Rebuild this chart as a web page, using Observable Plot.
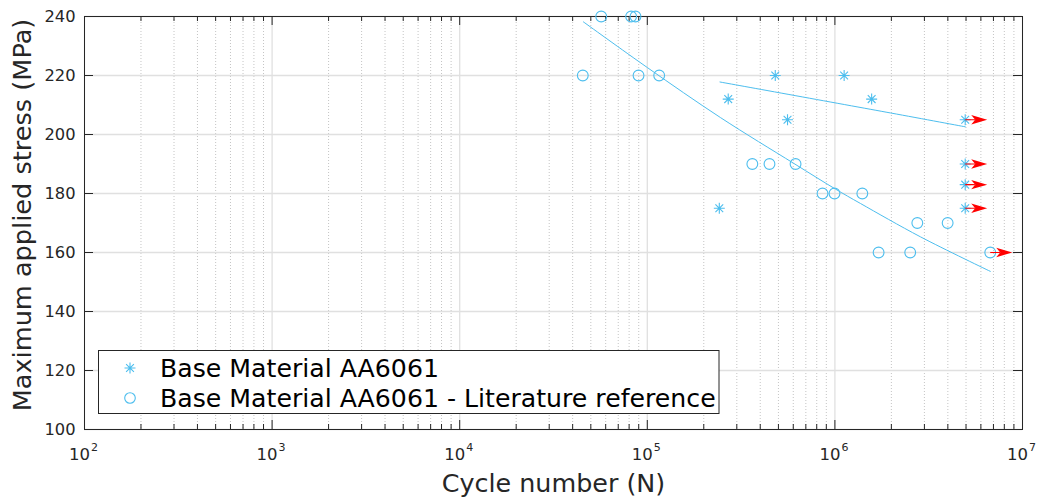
<!DOCTYPE html>
<html><head><meta charset="utf-8">
<script src="https://cdn.jsdelivr.net/npm/d3@7"></script>
<script src="https://cdn.jsdelivr.net/npm/@observablehq/plot@0.6"></script>
<style>
body{margin:0;background:#fff;}
#wrap{position:relative;width:1042px;height:499px;font-family:"DejaVu Sans",sans-serif;}
#wrap svg{display:block;}
#legend{position:absolute;left:0;top:0;}
</style></head><body><div id="wrap"></div>
<script>
// ---- data ----
const baseN = [2.42e5, 2.70e5, 4.81e5, 5.59e5, 1.12e6, 1.57e6, 4.95e6, 4.95e6, 4.95e6, 4.95e6];
const baseS = [175, 212, 220, 205, 220, 212, 205, 190, 183, 175];
const litN = [4.53e4, 5.68e4, 8.2e4, 8.65e4, 8.98e4, 1.157e5, 3.63e5, 4.48e5, 6.17e5, 8.59e5, 9.95e5, 1.40e6, 1.71e6, 2.52e6, 2.75e6, 3.99e6, 6.73e6];
const litS = [220, 240, 240, 240, 220, 220, 190, 190, 190, 180, 180, 180, 160, 160, 170, 170, 160];
const baseFitN = [2.44e5, 1.98e6, 4.96e6];
const baseFitS = [217.8, 207.3, 202.6];
const litFitN = [4.56e4, 1e5, 2.46e5, 6.04e5, 1.007e6, 1.37e6, 2.86e6, 6.74e6];
const litFitS = [238.2, 222.7, 205.7, 190.2, 181.5, 176.6, 165.3, 153.6];
const runN = [4.95e6, 4.95e6, 4.95e6, 4.95e6, 6.73e6];
const runS = [205, 190, 183, 175, 160];
const xMajor = [1e2, 1e3, 1e4, 1e5, 1e6, 1e7];
const xExp = ["2", "3", "4", "5", "6", "7"];
const yTicks = [100, 120, 140, 160, 180, 200, 220, 240];
const seriesNames = ["Base Material AA6061", "Base Material AA6061 - Literature reference"];
const xLabel = "Cycle number (N)";
const yLabel = "Maximum applied stress (MPa)";

// ---- build tables ----
const base = baseN.map((n, i) => ({n, s: baseS[i]}));
const lit = litN.map((n, i) => ({n, s: litS[i]}));
const baseFit = baseFitN.map((n, i) => ({n, s: baseFitS[i]}));
const litFit = litFitN.map((n, i) => ({n, s: litFitS[i]}));
const runs = runN.map((n, i) => ({n, s: runS[i]}));
const xMinor = [];
for (let k = 0; k < xMajor.length - 1; k++) for (let m = 2; m <= 9; m++) xMinor.push(m * xMajor[k]);

const W = 1042, H = 499, mL = 84, mR = 20, mT = 16, mB = 70;
const fw = W - mL - mR, fh = H - mT - mB;
const blue = "#4DBEEE", ax = "#262626";

const asterisk = {draw(ctx) {
  const r = 5.5, d = r * Math.SQRT1_2;
  ctx.moveTo(-r, 0); ctx.lineTo(r, 0);
  ctx.moveTo(0, -r); ctx.lineTo(0, r);
  ctx.moveTo(-d, -d); ctx.lineTo(d, d);
  ctx.moveTo(-d, d); ctx.lineTo(d, -d);
}};
const arrowHead = {draw(ctx) {
  ctx.moveTo(0, -0.6); ctx.lineTo(10, -0.6); ctx.lineTo(10, 0.6); ctx.lineTo(0, 0.6); ctx.closePath();
  ctx.moveTo(22, 0); ctx.lineTo(6, -4.7); ctx.lineTo(10, 0); ctx.lineTo(6, 4.7); ctx.closePath();
}};

const chart = Plot.plot({
  width: W, height: H, marginLeft: mL, marginRight: mR, marginTop: mT, marginBottom: mB,
  style: {fontFamily: "DejaVu Sans", fontSize: "16px", color: ax, background: "white"},
  x: {type: "log", domain: [1e2, 1e7], axis: null},
  y: {domain: [100, 240]},
  marks: [
    Plot.ruleX(xMinor, {x: d => d, stroke: "#b5b5b5", strokeDasharray: "1,2", strokeWidth: 0.8}),
    Plot.ruleX(xMajor, {x: d => d, stroke: "#e0e0e0", strokeWidth: 1.3}),
    Plot.ruleY(yTicks, {y: d => d, stroke: "#e0e0e0", strokeWidth: 1.3}),
    // inward ticks
    Plot.ruleX(xMajor, {x: d => d, insetTop: fh - 9, stroke: ax}),
    Plot.ruleX(xMajor, {x: d => d, insetBottom: fh - 9, stroke: ax}),
    Plot.ruleX(xMinor, {x: d => d, insetTop: fh - 5, stroke: ax}),
    Plot.ruleX(xMinor, {x: d => d, insetBottom: fh - 5, stroke: ax}),
    Plot.ruleY(yTicks, {y: d => d, insetRight: fw - 9, stroke: ax}),
    Plot.ruleY(yTicks, {y: d => d, insetLeft: fw - 9, stroke: ax}),
    Plot.frame({stroke: ax}),
    Plot.axisY(yTicks, {tickSize: 0, tickPadding: 9, fontSize: 16.3, label: null}),
    Plot.text(xMajor, {x: d => d, text: () => "10", frameAnchor: "bottom", textAnchor: "end", lineAnchor: "bottom", dx: 5.5, dy: 30, fontSize: 16.5, fill: ax}),
    Plot.text(xMajor, {x: d => d, text: (d, i) => xExp[i], frameAnchor: "bottom", textAnchor: "start", lineAnchor: "bottom", dx: 6.5, dy: 21.7, fontSize: 11, fill: ax}),
    Plot.text([xLabel], {text: d => d, frameAnchor: "bottom", lineAnchor: "bottom", dy: 62, fontSize: 25.4, fill: ax}),
    Plot.text([yLabel], {text: d => d, frameAnchor: "left", rotate: -90, lineAnchor: "middle", textAnchor: "middle", dx: -61.5, dy: -8, fontSize: 25.6, fill: ax}),
    // data
    Plot.line(litFit, {x: "n", y: "s", stroke: blue, strokeWidth: 1, curve: "catmull-rom"}),
    Plot.line(baseFit, {x: "n", y: "s", stroke: blue, strokeWidth: 1, curve: "catmull-rom"}),
    Plot.dot(lit, {x: "n", y: "s", r: 5.4, stroke: blue, fill: "none", strokeWidth: 1.1}),
    Plot.dot(base, {x: "n", y: "s", symbol: asterisk, stroke: blue, strokeWidth: 1.1}),
    Plot.dot(runs, {x: "n", y: "s", symbol: arrowHead, fill: "red", stroke: "none"})
  ]
});
const wrap = document.getElementById("wrap");
wrap.appendChild(chart);

// legend overlay (inside the axes, as in the reference)
const ns = "http://www.w3.org/2000/svg";
const lg = document.createElementNS(ns, "svg");
lg.setAttribute("id", "legend");
lg.setAttribute("width", W); lg.setAttribute("height", H);
lg.style.position = "absolute"; lg.style.left = "0"; lg.style.top = "0";
lg.innerHTML = `
<rect x="98.5" y="350.5" width="620.5" height="63" fill="white" stroke="${ax}" stroke-width="1"/>
<path d="M124.5,368h11M130,362.5v11M126.1,364.1l7.8,7.8M126.1,371.9l7.8,-7.8" stroke="${blue}" stroke-width="1.1" fill="none"/>
<circle cx="130" cy="398" r="5.3" stroke="${blue}" stroke-width="1.1" fill="none"/>
<text x="160" y="376.7" font-family="DejaVu Sans" font-size="25.2" fill="#000">${seriesNames[0]}</text>
<text x="160" y="406.7" font-family="DejaVu Sans" font-size="25.2" fill="#000">${seriesNames[1]}</text>`;
wrap.appendChild(lg);
</script></body></html>
